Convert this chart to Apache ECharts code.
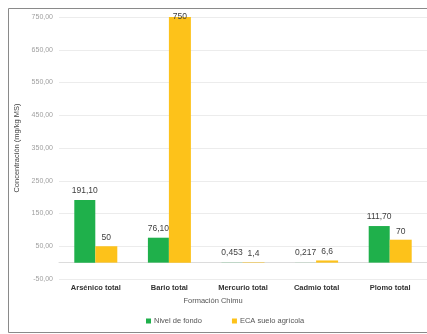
<!DOCTYPE html>
<html><head><meta charset="utf-8">
<script src="https://cdn.jsdelivr.net/npm/echarts@6/dist/echarts.min.js"></script>
<style>html,body{margin:0;padding:0;background:#fff;}#c{width:427px;height:334px;}</style>
</head><body><div id="c"></div>
<script>
const categories = ['Arsénico total', 'Bario total', 'Mercurio total', 'Cadmio total', 'Plomo total'];
const nivelFondo = [191.10, 76.10, 0.453, 0.217, 111.70];
const nivelFondoLabels = ['191,10', '76,10', '0,453', '0,217', '111,70'];
const eca = [50, 750, 1.4, 6.6, 70];
const ecaLabels = ['50', '750', '1,4', '6,6', '70'];
const seriesNames = ['Nivel de fondo', 'ECA suelo agrícola'];

const chart = echarts.init(document.getElementById('c'), null, {renderer: 'canvas'});
const FONT = '"Liberation Sans", Arial, sans-serif';
const Y_MAX = 750;
chart.setOption({
  animation: false,
  textStyle: {fontFamily: FONT},
  graphic: [{
    type: 'rect', shape: {x: 8.5, y: 8.5, width: 480, height: 324},
    style: {fill: 'none', stroke: '#8a8a8a', lineWidth: 1}, silent: true
  }],
  grid: {left: 59, right: -9, top: 17, bottom: 55, containLabel: false},
  legend: {
    data: seriesNames, bottom: 4, left: 141, itemWidth: 5, itemHeight: 5,
    itemGap: 30, icon: 'rect',
    textStyle: {fontSize: 7.5, color: '#555', fontFamily: FONT, padding: [0, 0, 0, -2]}
  },
  xAxis: {
    type: 'category', data: categories,
    name: 'Formación Chimu', nameLocation: 'middle', nameGap: 10,
    nameTextStyle: {fontSize: 7.5, color: '#555', padding: [0, 60, 0, 0]},
    axisLine: {show: true, onZero: true, lineStyle: {color: '#dcdcdc'}},
    axisTick: {show: false},
    axisLabel: {fontSize: 7.5, color: '#333', fontWeight: 'bold', margin: 5, interval: 0}
  },
  yAxis: {
    type: 'value', min: -50, max: Y_MAX, interval: 100,
    name: 'Concentración (mg/kg MS)', nameLocation: 'middle', nameGap: 37,
    nameTextStyle: {fontSize: 7.5, color: '#444'},
    axisLine: {show: false}, axisTick: {show: false},
    axisLabel: {fontSize: 7, color: '#a0a0a0', margin: 6,
      formatter: v => v.toFixed(2).replace('.', ',')},
    splitLine: {lineStyle: {color: '#ececec'}}
  },
  series: [
    {
      name: seriesNames[0], type: 'bar', data: nivelFondo, barWidth: 21, barGap: '0%',
      itemStyle: {color: '#1fb04b'},
      label: {show: true, position: 'top', distance: 5, fontSize: 8.5, color: '#404040',
        formatter: p => nivelFondoLabels[p.dataIndex]}
    },
    {
      name: seriesNames[1], type: 'bar', barWidth: 22, barGap: '0%',
      data: eca.map(v => v >= Y_MAX ? {value: v, label: {offset: [0, 8]}} : v),
      itemStyle: {color: '#fdc21a'},
      label: {show: true, position: 'top', distance: 4, fontSize: 8.5, color: '#404040',
        formatter: p => ecaLabels[p.dataIndex]}
    }
  ]
});
</script></body></html>
